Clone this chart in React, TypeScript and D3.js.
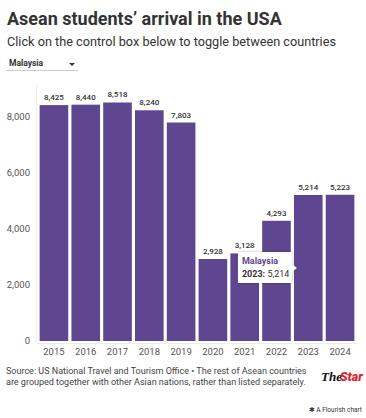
import React from 'react';
import * as d3 from 'd3';

const years = ['2015', '2016', '2017', '2018', '2019', '2020', '2021', '2022', '2023', '2024'];
const arrivals = [8425, 8440, 8518, 8240, 7803, 2928, 3128, 4293, 5214, 5223];
const yTicks = [0, 2000, 4000, 6000, 8000];

const W = 366;
const H = 418;
const FONT = 'Roboto, "Noto Sans", sans-serif';
const PURPLE = '#5e4790';

const App = () => {
    const margin = { top: 96, right: 11, bottom: 77, left: 39 };
    const baseY = H - margin.bottom;

    const x = d3.scaleBand<string>()
        .domain(years)
        .range([margin.left, W - margin.right])
        .paddingInner(0.1)
        .paddingOuter(0.02);

    const y = d3.scaleLinear()
        .domain([0, 8000])
        .range([baseY, 117]);

    const fmt = d3.format(',');
    const data = years.map((yr, i) => ({ year: yr, value: arrivals[i] }));
    const tip = data[8];
    const tipX = x(tip.year)! - 56;
    const tipY = 252;

    return (
        <svg width={W} height={H} style={{ position: 'absolute', left: 0, top: 0, fontFamily: FONT }}>
            <defs>
                <filter id="shadow" x="-20%" y="-20%" width="140%" height="140%">
                    <feDropShadow dx="0" dy="0" stdDeviation="1.5" floodColor="#000" floodOpacity="0.25" />
                </filter>
            </defs>

            <text x={7} y={25} fontSize={18} fontWeight={700} fill="#333">Asean students’ arrival in the USA</text>
            <text x={7} y={46} fontSize={12.7} fill="#333">Click on the control box below to toggle between countries</text>

            {/* dropdown */}
            <text x={9} y={66} fontSize={8.5} fontWeight={700} fill="#333">Malaysia</text>
            <path d="M69,63 L75,63 L72,66 Z" fill="#333" />
            <line x1={6} x2={78} y1={70.5} y2={70.5} stroke="#ccc" />

            {/* axes */}
            <line x1={36.5} x2={36.5} y1={84} y2={baseY + 2} stroke="#eee" />
            <line x1={36} x2={W - 9} y1={baseY + 2.5} y2={baseY + 2.5} stroke="#eee" />
            {yTicks.map(t => (
                <text key={t} x={30} y={y(t)} dy="0.35em" textAnchor="end" fontSize={9.5} fill="#555">{fmt(t)}</text>
            ))}

            {data.map(d => (
                <g key={d.year}>
                    <rect x={x(d.year)} y={y(d.value)} width={x.bandwidth()} height={baseY - y(d.value)} fill={PURPLE} />
                    <text x={x(d.year)! + x.bandwidth() / 2} y={y(d.value) - 5} textAnchor="middle" fontSize={8} fontWeight={500} fill="#333">{fmt(d.value)}</text>
                    <text x={x(d.year)! + x.bandwidth() / 2} y={baseY + 14} textAnchor="middle" fontSize={9.5} fill="#555">{d.year}</text>
                </g>
            ))}

            {/* tooltip */}
            <g filter="url(#shadow)">
                <rect x={tipX} y={tipY} width={54} height={31} fill="#fff" />
                <path d={`M${tipX + 54},${tipY + 12} L${tipX + 59},${tipY + 16} L${tipX + 54},${tipY + 20} Z`} fill="#fff" />
            </g>
            <text x={tipX + 4} y={tipY + 12} fontSize={9} fontWeight={700} fill={PURPLE}>Malaysia</text>
            <text x={tipX + 4} y={tipY + 25} fontSize={9} fill="#333">
                <tspan fontWeight={700}>{tip.year}:</tspan> {fmt(tip.value)}
            </text>

            {/* footer */}
            <text fontSize={9} fill="#444">
                <tspan x={6} y={374}>Source: US National Travel and Tourism Office • The rest of Asean countries</tspan>
                <tspan x={6} y={385}>are grouped together with other Asian nations, rather than listed separately.</tspan>
            </text>
            <text x={321} y={381} fontSize={13} fontStyle="italic" fontWeight={700} fontFamily="'Liberation Serif', serif" fill="#111">The</text>
            <text x={340} y={381} fontSize={12.5} fontStyle="italic" fontWeight={900} fill="#e0242b">Star</text>

            <text x={W - 4} y={412} textAnchor="end" fontSize={6.5} fill="#333">✱ A Flourish chart</text>
        </svg>
    );
};

export default App;
